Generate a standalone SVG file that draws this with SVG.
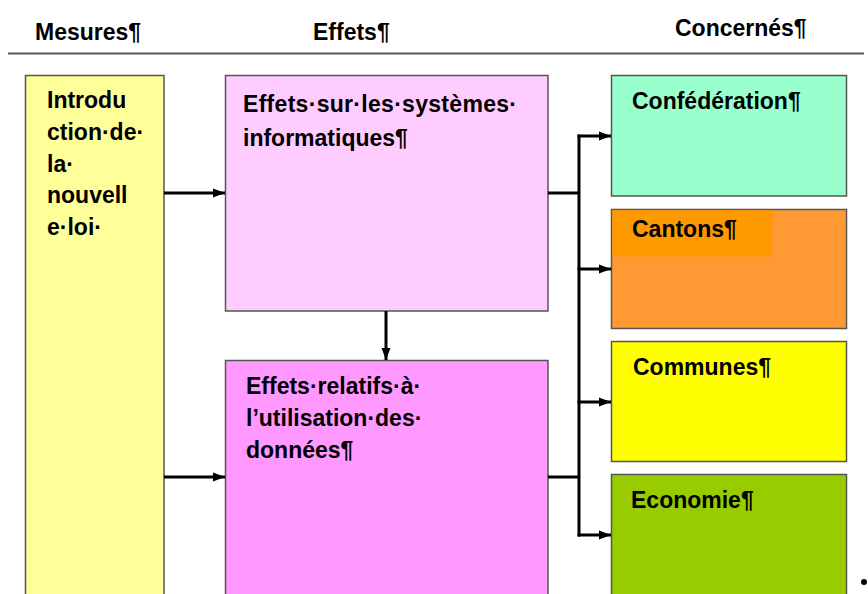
<svg xmlns="http://www.w3.org/2000/svg" width="868" height="594" viewBox="0 0 868 594">
  <style>
    .t { font-family: "Liberation Sans", Arial, sans-serif; font-weight: bold; font-size: 23px; fill: #000; }
    .box { stroke: #555; stroke-width: 1.5; }
    .wire { fill: none; stroke: #000; stroke-width: 3; }
  </style>
  <defs>
    <marker id="ah" viewBox="0 0 12 10" refX="12" refY="5" markerWidth="12" markerHeight="10" markerUnits="userSpaceOnUse" orient="auto">
      <path d="M0,0.5 L12,5 L0,9.5 Z" fill="#000"/>
    </marker>
  </defs>
  <rect width="868" height="594" fill="#fff"/>

  <!-- column headings -->
  <g id="headings">
    <text class="t" x="35" y="40">Mesures¶</text>
    <text class="t" x="313" y="40">Effets¶</text>
    <text class="t" x="675" y="36">Concernés¶</text>
    <line x1="8" y1="53.5" x2="864" y2="53.5" stroke="#555" stroke-width="2"/>
  </g>

  <g id="mesure">
    <rect class="box" x="25.5" y="75.5" width="138.5" height="520" fill="#FFFF99"/>
    <text class="t" x="47" y="108">Introdu</text>
    <text class="t" x="47" y="140">ction·de·</text>
    <text class="t" x="47" y="172">la·</text>
    <text class="t" x="47" y="203">nouvell</text>
    <text class="t" x="47" y="235">e·loi·</text>
  </g>

  <g id="effets-systemes">
    <rect class="box" x="225.5" y="75.5" width="322.5" height="235.5" fill="#FFCCFF"/>
    <text class="t" x="243" y="112" textLength="274">Effets·sur·les·systèmes·</text>
    <text class="t" x="243" y="146">informatiques¶</text>
  </g>

  <g id="effets-donnees">
    <rect class="box" x="225.5" y="360.5" width="322.5" height="240" fill="#FF99FF"/>
    <text class="t" x="246" y="394">Effets·relatifs·à·</text>
    <text class="t" x="246" y="426">l’utilisation·des·</text>
    <text class="t" x="246" y="458">données¶</text>
  </g>

  <g id="confederation">
    <rect class="box" x="611.5" y="75.5" width="235" height="120.5" fill="#99FFCC"/>
    <text class="t" x="632" y="109">Confédération¶</text>
  </g>

  <g id="cantons">
    <rect class="box" x="611.5" y="209.5" width="235" height="119" fill="#FF9933"/>
    <rect x="612.3" y="210.3" width="160" height="46" fill="#FF9900"/>
    <text class="t" x="632" y="237">Cantons¶</text>
  </g>

  <g id="communes">
    <rect class="box" x="611.5" y="341.5" width="235" height="120" fill="#FFFF00"/>
    <text class="t" x="633" y="375">Communes¶</text>
  </g>

  <g id="economie">
    <rect class="box" x="611.5" y="474.5" width="235" height="126" fill="#99CC00"/>
    <text class="t" x="631" y="508">Economie¶</text>
  </g>

  <circle cx="864" cy="582" r="3" fill="#000"/>

  <g id="connectors">
    <line class="wire" x1="164" y1="193" x2="225" y2="193" marker-end="url(#ah)"/>
    <line class="wire" x1="164" y1="477" x2="225" y2="477" marker-end="url(#ah)"/>
    <line class="wire" x1="386" y1="311" x2="386" y2="360" marker-end="url(#ah)"/>
    <line class="wire" x1="548" y1="193" x2="579" y2="193"/>
    <line class="wire" x1="548" y1="477" x2="579" y2="477"/>
    <line class="wire" x1="579" y1="134.5" x2="579" y2="536.5"/>
    <line class="wire" x1="577.5" y1="136" x2="611" y2="136" marker-end="url(#ah)"/>
    <line class="wire" x1="577.5" y1="269" x2="611" y2="269" marker-end="url(#ah)"/>
    <line class="wire" x1="577.5" y1="402" x2="611" y2="402" marker-end="url(#ah)"/>
    <line class="wire" x1="577.5" y1="535" x2="611" y2="535" marker-end="url(#ah)"/>
  </g>
</svg>
